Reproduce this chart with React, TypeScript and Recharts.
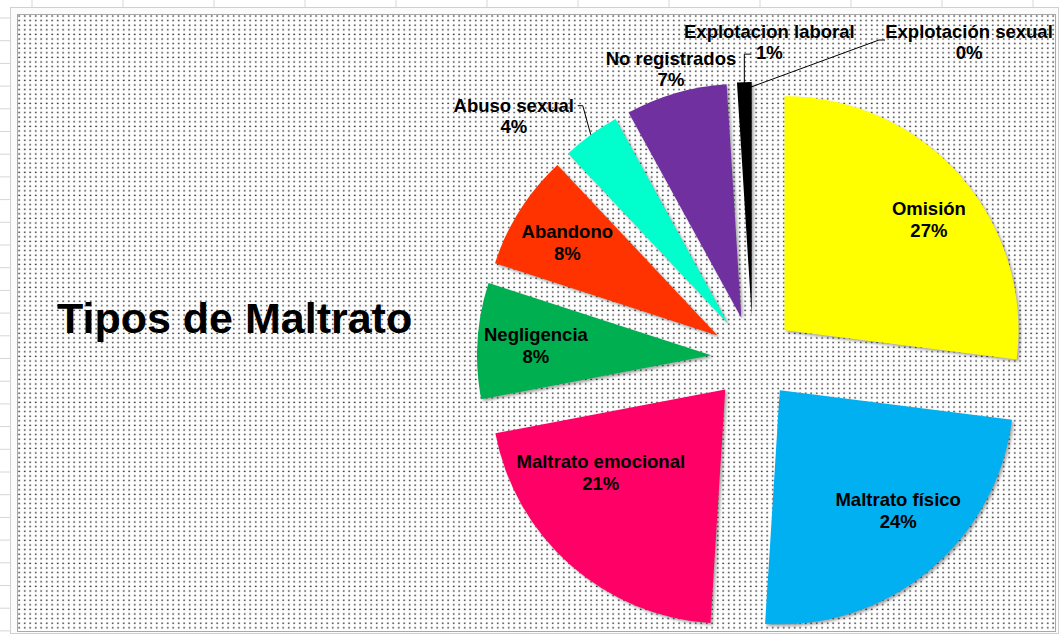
import React from "react";
import { PieChart, Pie, Cell } from "recharts";

const categories = [
  "Omisión",
  "Maltrato físico",
  "Maltrato emocional",
  "Negligencia",
  "Abandono",
  "Abuso sexual",
  "No registrados",
  "Explotacion laboral",
  "Explotación sexual",
];
const values = [27, 24, 21, 8, 8, 4, 7, 1, 0];
const colors = ["#FFFF00", "#00B0F0", "#FF0066", "#00B050", "#FF3300", "#00FFCC", "#7030A0", "#000000", "#F4B183"];

const data = categories.map((name, i) => ({ name, value: values[i] }));

const W = 1060;
const H = 636;
const CX = 748;
const CY = 353;
const R = 234;
const EXPLODE = 42;
const RAD = Math.PI / 180;
const FONT = '"Liberation Sans", Arial, sans-serif';

const total = values.reduce((a, b) => a + b, 0);
// mid angle per slice, recharts convention (deg ccw from 3 o'clock); pie runs clockwise from 12
const midAngles = values.map((v, i) => {
  const before = values.slice(0, i).reduce((a, b) => a + b, 0);
  return 90 - (360 * (before + v / 2)) / total;
});

// inside labels: small nudges off the default 0.72 radius spot (Excel "best fit")
const inside: Record<string, [number, number]> = {
  "Omisión": [18, 0],
  "Maltrato físico": [11, -10],
  "Maltrato emocional": [-13, -44],
  "Negligencia": [-7, 0],
  "Abandono": [-8, -3],
};

// outside labels: text offset from the arc point, optional leader elbow/end
const outside: Record<string, { tx: number; ty: number; line?: number[][] }> = {
  "Abuso sexual": { tx: -77, ty: -23, line: [[0, 0], [-8, -29], [-13, -29]] },
  "No registrados": { tx: -5, ty: -28 },
  "Explotacion laboral": { tx: 25, ty: -44, line: [[0, 2], [0, -28], [7, -28]] },
  "Explotación sexual": { tx: 216, ty: -44, line: [[-2, 5], [126, -42], [132, -42]] },
};

const renderLabel = (k: number) => (props: any) => {
  if (props.index !== k) return null;
  const { cx, cy, midAngle, outerRadius, name, percent } = props;
  const pct = `${Math.round(percent * 100)}%`;
  const o = outside[name];
  const cos = Math.cos(-midAngle * RAD);
  const sin = Math.sin(-midAngle * RAD);
  const style = { fontFamily: FONT, fontWeight: 700, fontSize: 18.5, fill: "#000" };
  if (!o) {
    const [nx, ny] = inside[name] ?? [0, 0];
    const x = cx + outerRadius * 0.72 * cos + nx;
    const y = cy + outerRadius * 0.72 * sin + ny;
    return (
      <text x={x} y={y - 4} textAnchor="middle" style={style}>
        <tspan x={x}>{name}</tspan>
        <tspan x={x} dy={22}>{pct}</tspan>
      </text>
    );
  }
  const ax = cx + outerRadius * cos;
  const ay = cy + outerRadius * sin;
  return (
    <g>
      {o.line && (
        <polyline
          points={o.line.map(([dx, dy]) => `${ax + dx},${ay + dy}`).join(" ")}
          fill="none"
          stroke="#000"
          strokeWidth={1}
        />
      )}
      <text x={ax + o.tx} y={ay + o.ty} textAnchor="middle" style={style}>
        <tspan x={ax + o.tx}>{name}</tspan>
        <tspan x={ax + o.tx} dy={21}>{pct}</tspan>
      </text>
    </g>
  );
};

const colLines = Array.from({ length: 12 }, (_, i) => 32 + i * 91);
const rowTicks = Array.from({ length: 28 }, (_, i) => 18 + i * 22.7);

export default function App() {
  return (
    <div style={{ position: "absolute", left: 0, top: 0, width: W, height: H, background: "#fff", overflow: "hidden" }}>
      <style>{`.recharts-sector { filter: drop-shadow(2px 2px 1.5px rgba(0,0,0,0.35)); }`}</style>
      <svg width={W} height={H} style={{ position: "absolute", left: 0, top: 0 }}>
        <defs>
          <pattern id="dots" width={5.5} height={4.6} patternUnits="userSpaceOnUse">
            <rect x={2} y={1.5} width={1.4} height={1.4} fill="#111" />
          </pattern>
        </defs>
        {colLines.map((x) => (
          <line key={x} x1={x} y1={0} x2={x} y2={14} stroke="#d6d6d6" />
        ))}
        {rowTicks.map((y) => (
          <line key={y} x1={0} y1={y} x2={10} y2={y} stroke="#d6d6d6" />
        ))}
        <rect x={10.5} y={7.5} width={1048} height={626} fill="#fbfbfb" stroke="#d0d0d0" />
        <rect x={17.5} y={14.5} width={1038} height={617} fill="#fff" stroke="#a8a8a8" />
        <rect x={18} y={15} width={1037} height={616} fill="url(#dots)" />
        <text x={57} y={333} style={{ fontFamily: FONT, fontWeight: 700, fontSize: 43, fill: "#000" }}>
          Tipos de Maltrato
        </text>
      </svg>
      <div style={{ position: "absolute", left: 0, top: 0 }}>
        <PieChart width={W} height={H}>
          {data.map((_, k) => (
            <Pie
              key={k}
              data={data}
              dataKey="value"
              nameKey="name"
              cx={CX + EXPLODE * Math.cos(midAngles[k] * RAD)}
              cy={CY - EXPLODE * Math.sin(midAngles[k] * RAD)}
              outerRadius={R}
              startAngle={90}
              endAngle={-270}
              stroke="none"
              labelLine={false}
              label={renderLabel(k)}
              isAnimationActive={false}
            >
              {data.map((d, i) => (
                <Cell key={d.name} fill={i === k ? colors[i] : "none"} />
              ))}
            </Pie>
          ))}
        </PieChart>
      </div>
    </div>
  );
}
